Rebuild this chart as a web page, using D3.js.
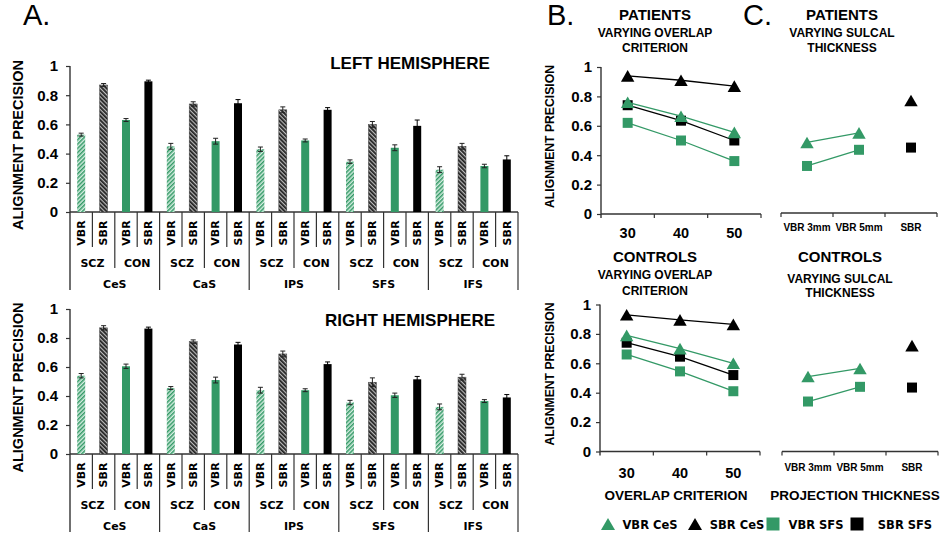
<!DOCTYPE html>
<html>
<head>
<meta charset="utf-8">
<script src="https://cdn.jsdelivr.net/npm/d3@7"></script>
<style>
body { margin: 0; background: #fff; }
svg text { font-family: "Liberation Sans", Arial, sans-serif; font-weight: bold; fill: #000; }
svg text.cat { font-family: "DejaVu Sans", Verdana, sans-serif; }
svg text.panel { font-weight: normal; }
</style>
</head>
<body>
<svg id="chart" width="943" height="539"></svg>
<script>
// ---- data ----
var SULCI = ["CeS", "CaS", "IPS", "SFS", "IFS"];
var GROUPS = ["SCZ", "CON"];
var METHODS = ["VBR", "SBR"];
var Y_TICKS = [0, 0.2, 0.4, 0.6, 0.8, 1];

// left hemisphere, one value per sulcus
var LEFT_VBR_SCZ = [0.53, 0.45, 0.43, 0.345, 0.29];
var LEFT_SBR_SCZ = [0.87, 0.74, 0.70, 0.60, 0.45];
var LEFT_VBR_CON = [0.63, 0.485, 0.49, 0.44, 0.315];
var LEFT_SBR_CON = [0.895, 0.745, 0.70, 0.59, 0.36];
var LEFT_VBR_SCZ_ERR = [0.01, 0.02, 0.015, 0.012, 0.02];
var LEFT_SBR_SCZ_ERR = [0.01, 0.015, 0.02, 0.02, 0.02];
var LEFT_VBR_CON_ERR = [0.01, 0.02, 0.01, 0.02, 0.012];
var LEFT_SBR_CON_ERR = [0.008, 0.025, 0.015, 0.04, 0.025];

// right hemisphere
var RIGHT_VBR_SCZ = [0.54, 0.455, 0.44, 0.355, 0.325];
var RIGHT_SBR_SCZ = [0.87, 0.775, 0.69, 0.495, 0.53];
var RIGHT_VBR_CON = [0.605, 0.51, 0.44, 0.405, 0.365];
var RIGHT_SBR_CON = [0.865, 0.755, 0.62, 0.515, 0.39];
var RIGHT_VBR_SCZ_ERR = [0.015, 0.01, 0.02, 0.015, 0.02];
var RIGHT_SBR_SCZ_ERR = [0.015, 0.012, 0.02, 0.03, 0.02];
var RIGHT_VBR_CON_ERR = [0.015, 0.02, 0.01, 0.015, 0.01];
var RIGHT_SBR_CON_ERR = [0.01, 0.015, 0.015, 0.02, 0.02];

// B: varying overlap criterion
var OVERLAP = ["30", "40", "50"];
var PAT_VBR_CES = [0.76, 0.665, 0.555];
var PAT_SBR_CES = [0.94, 0.91, 0.87];
var PAT_VBR_SFS = [0.62, 0.50, 0.36];
var PAT_SBR_SFS = [0.74, 0.635, 0.50];
var CON_VBR_CES = [0.79, 0.70, 0.60];
var CON_SBR_CES = [0.93, 0.895, 0.865];
var CON_VBR_SFS = [0.66, 0.545, 0.41];
var CON_SBR_SFS = [0.74, 0.645, 0.52];

// C: varying sulcal thickness
var THICKNESS = ["VBR 3mm", "VBR 5mm", "SBR"];
var PAT_THICK_VBR_CES = [0.48, 0.545];
var PAT_THICK_VBR_SFS = [0.32, 0.43];
var PAT_THICK_SBR_CES = [0.765];
var PAT_THICK_SBR_SFS = [0.445];
var CON_THICK_VBR_CES = [0.51, 0.565];
var CON_THICK_VBR_SFS = [0.34, 0.44];
var CON_THICK_SBR_CES = [0.72];
var CON_THICK_SBR_SFS = [0.435];

var LEGEND = ["VBR CeS", "SBR CeS", "VBR SFS", "SBR SFS"];

// ---- style ----
var GREEN = "#339966";
var AXIS = "#333";
var BAR_W = 8;
var FILLS = ["url(#hatchGreen)", "url(#hatchGray)", GREEN, "#000"];

var svg = d3.select("#chart");

function addPatterns(){
    var defs = svg.append("defs");
    var pg = defs.append("pattern").attr("id", "hatchGreen")
        .attr("width", 3).attr("height", 3)
        .attr("patternUnits", "userSpaceOnUse")
        .attr("patternTransform", "rotate(45)");
    pg.append("rect").attr("width", 3).attr("height", 3).attr("fill", "#d4ede0");
    pg.append("line").attr("x1", 0.75).attr("y1", 0).attr("x2", 0.75).attr("y2", 3)
        .attr("stroke", GREEN).attr("stroke-width", 1.5);

    var pk = defs.append("pattern").attr("id", "hatchGray")
        .attr("width", 3).attr("height", 3)
        .attr("patternUnits", "userSpaceOnUse")
        .attr("patternTransform", "rotate(-45)");
    pk.append("rect").attr("width", 3).attr("height", 3).attr("fill", "#bbb");
    pk.append("line").attr("x1", 0.9).attr("y1", 0).attr("x2", 0.9).attr("y2", 3)
        .attr("stroke", "#222").attr("stroke-width", 1.8);
}

function vText(g, txt, x, y, size, cls){
    return g.append("text").attr("class", cls || null)
        .attr("transform", "translate(" + x + "," + y + ") rotate(-90)")
        .attr("text-anchor", "middle").attr("dy", "0.35em")
        .style("font-size", size + "px").text(txt);
}

function hText(g, txt, x, y, size, cls){
    return g.append("text").attr("class", cls || null)
        .attr("x", x).attr("y", y)
        .attr("text-anchor", "middle").attr("dy", "0.35em")
        .style("font-size", size + "px").text(txt);
}

function line(g, x1, y1, x2, y2, w){
    g.append("line").attr("x1", x1).attr("y1", y1).attr("x2", x2).attr("y2", y2)
        .attr("stroke", AXIS).attr("stroke-width", w || 1.2);
}

function tickFmt(d){
    return d === 0 || d === 1 ? String(d) : d3.format(".1f")(d);
}

function drawBarPanel(cfg){
    var g = svg.append("g");
    var left = 70, right = 518;
    var slots = [];
    GROUPS.forEach(function(gr){ METHODS.forEach(function(m){ slots.push({group: gr, method: m}); }); });

    var x0 = d3.scaleBand().domain(SULCI).range([left, right]);
    var x1 = d3.scaleBand().domain(d3.range(slots.length)).range([0, x0.bandwidth()]);
    var y = d3.scaleLinear().domain([0, 1]).range([cfg.base, cfg.top]);

    var ax = g.append("g").attr("transform", "translate(" + left + ",0)")
        .call(d3.axisLeft(y).tickValues(Y_TICKS).tickSize(4).tickSizeOuter(0).tickPadding(8).tickFormat(tickFmt));
    ax.select(".domain").remove();
    ax.selectAll("line").attr("stroke", AXIS).attr("stroke-width", 1.2);
    ax.selectAll("text").style("font-size", "15px").attr("fill", "#000");

    line(g, left, cfg.top, left, cfg.base + 78, 1.4);
    line(g, left, cfg.base, right, cfg.base, 1.6);

    SULCI.forEach(function(s, i){
        slots.forEach(function(slot, j){
            var v = cfg.values[j][i], e = cfg.errors[j][i];
            var cx = x0(s) + x1(j) + x1.bandwidth() / 2;
            g.append("rect")
                .attr("x", cx - BAR_W / 2).attr("width", BAR_W)
                .attr("y", y(v)).attr("height", y(0) - y(v))
                .attr("fill", FILLS[j])
                .attr("stroke", j === 1 ? "#444" : "none").attr("stroke-width", 0.5);
            var eg = g.append("g").attr("stroke", j === 3 ? "#000" : "#222").attr("stroke-width", 1);
            eg.append("line").attr("x1", cx).attr("x2", cx).attr("y1", y(v - e)).attr("y2", y(v + e));
            eg.append("line").attr("x1", cx - 2.5).attr("x2", cx + 2.5).attr("y1", y(v + e)).attr("y2", y(v + e));
            eg.append("line").attr("x1", cx - 2.5).attr("x2", cx + 2.5).attr("y1", y(v - e)).attr("y2", y(v - e));

            vText(g, slot.method, cx, cfg.base + 21, 11, "cat");
            if (j > 0) {
                var bx = x0(s) + x1(j);
                line(g, bx, cfg.base, bx, cfg.base + (j === 2 ? 56 : 35));
            }
        });
        GROUPS.forEach(function(gr, k){
            var gx = x0(s) + x1(k * 2) + x1.bandwidth();
            hText(g, gr, gx, cfg.base + 51, 11, "cat");
        });
        hText(g, s, x0(s) + x0.bandwidth() / 2, cfg.base + 72, 11, "cat");
        line(g, x0(s) + x0.bandwidth(), cfg.base, x0(s) + x0.bandwidth(), cfg.base + 78);
    });

    hText(g, cfg.title, 410, cfg.titleY, 17);
    vText(g, "ALIGNMENT PRECISION", 18, (cfg.base + cfg.top) / 2 + 6, 14.5);
}

function marker(g, shape, color, x, y, area){
    var sym = shape === "tri" ? d3.symbolTriangle : d3.symbolSquare;
    var off = shape === "tri" ? Math.sqrt(area / (3 * Math.sqrt(3))) / 2 : 0;
    g.append("path")
        .attr("d", d3.symbol().type(sym).size(area)())
        .attr("transform", "translate(" + x + "," + (y + off) + ")")
        .attr("fill", color);
}

function drawLinePanel(cfg){
    var g = svg.append("g");
    var x = d3.scaleBand().domain(cfg.cats).range(cfg.xr);
    var y = d3.scaleLinear().domain([0, 1]).range([cfg.base, cfg.top]);

    if (cfg.yAxis) {
        var ax = g.append("g").attr("transform", "translate(" + cfg.xr[0] + ",0)")
            .call(d3.axisLeft(y).tickValues(Y_TICKS).tickSize(4).tickSizeOuter(0).tickPadding(5).tickFormat(tickFmt));
        ax.select(".domain").remove();
        ax.selectAll("line").attr("stroke", AXIS).attr("stroke-width", 1.2);
        ax.selectAll("text").style("font-size", "15px").attr("fill", "#000");
        line(g, cfg.xr[0], cfg.top, cfg.xr[0], cfg.base + 4, 1.4);
        vText(g, "ALIGNMENT PRECISION", 550, (cfg.base + cfg.top) / 2 - 4, 12.2);
    }
    line(g, cfg.xr[0], cfg.base, cfg.xr[1], cfg.base, 1.4);
    cfg.cats.forEach(function(c, i){
        if (i > 0 || !cfg.yAxis) line(g, x(c), cfg.base, x(c), cfg.base + 4);
        hText(g, c, x(c) + x.bandwidth() / 2, cfg.base + cfg.labelDy, cfg.labelSize);
    });
    line(g, cfg.xr[1], cfg.base, cfg.xr[1], cfg.base + 4);

    cfg.series.forEach(function(s){
        var pts = s.values.map(function(v, i){
            return [x(s.cats[i]) + x.bandwidth() / 2, y(v)];
        });
        if (pts.length > 1) {
            g.append("path").attr("d", d3.line()(pts))
                .attr("fill", "none").attr("stroke", s.color).attr("stroke-width", 1.3);
        }
        pts.forEach(function(p){
            marker(g, s.shape, s.color, p[0], p[1], s.shape === "tri" ? 78 : 100);
        });
    });

    hText(g, cfg.title, cfg.cx, cfg.titleY, 15);
    hText(g, cfg.sub[0], cfg.cx, cfg.titleY + cfg.subDy[0], 12);
    hText(g, cfg.sub[1], cfg.cx, cfg.titleY + cfg.subDy[1], 12);
}

function series(cats, vbrCes, sbrCes, vbrSfs, sbrSfs, sbrCats){
    return [
        {values: sbrSfs, cats: sbrCats || cats, shape: "sq", color: "#000"},
        {values: vbrSfs, cats: cats, shape: "sq", color: GREEN},
        {values: sbrCes, cats: sbrCats || cats, shape: "tri", color: "#000"},
        {values: vbrCes, cats: cats, shape: "tri", color: GREEN}
    ];
}

function drawLegend(){
    var g = svg.append("g");
    var items = [
        {shape: "tri", color: GREEN, x: 608, tx: 650},
        {shape: "tri", color: "#000", x: 695, tx: 737},
        {shape: "sq", color: GREEN, x: 773, tx: 816},
        {shape: "sq", color: "#000", x: 857, tx: 905}
    ];
    items.forEach(function(it, i){
        marker(g, it.shape, it.color, it.x, 524, it.shape === "tri" ? 85 : 169);
        hText(g, LEGEND[i], it.tx, 525, 11.5, "cat");
    });
}

addPatterns();

drawBarPanel({
    base: 212, top: 66, title: "LEFT HEMISPHERE", titleY: 63,
    values: [LEFT_VBR_SCZ, LEFT_SBR_SCZ, LEFT_VBR_CON, LEFT_SBR_CON],
    errors: [LEFT_VBR_SCZ_ERR, LEFT_SBR_SCZ_ERR, LEFT_VBR_CON_ERR, LEFT_SBR_CON_ERR]
});
drawBarPanel({
    base: 454, top: 309, title: "RIGHT HEMISPHERE", titleY: 320,
    values: [RIGHT_VBR_SCZ, RIGHT_SBR_SCZ, RIGHT_VBR_CON, RIGHT_SBR_CON],
    errors: [RIGHT_VBR_SCZ_ERR, RIGHT_SBR_SCZ_ERR, RIGHT_VBR_CON_ERR, RIGHT_SBR_CON_ERR]
});

drawLinePanel({
    cats: OVERLAP, xr: [601, 761], base: 214, top: 67, yAxis: true,
    labelDy: 19, labelSize: 14.5, cx: 655, title: "PATIENTS", titleY: 15,
    sub: ["VARYING OVERLAP", "CRITERION"], subDy: [18, 33],
    series: series(OVERLAP, PAT_VBR_CES, PAT_SBR_CES, PAT_VBR_SFS, PAT_SBR_SFS)
});
drawLinePanel({
    cats: OVERLAP, xr: [600, 760], base: 451.5, top: 304.5, yAxis: true,
    labelDy: 21, labelSize: 14.5, cx: 655, title: "CONTROLS", titleY: 257,
    sub: ["VARYING OVERLAP", "CRITERION"], subDy: [18, 34],
    series: series(OVERLAP, CON_VBR_CES, CON_SBR_CES, CON_VBR_SFS, CON_SBR_SFS)
});
drawLinePanel({
    cats: THICKNESS, xr: [781, 937], base: 213, top: 66, yAxis: false,
    labelDy: 14, labelSize: 10, cx: 842, title: "PATIENTS", titleY: 15,
    sub: ["VARYING SULCAL", "THICKNESS"], subDy: [18, 33],
    series: series(THICKNESS.slice(0, 2), PAT_THICK_VBR_CES, PAT_THICK_SBR_CES, PAT_THICK_VBR_SFS, PAT_THICK_SBR_SFS, THICKNESS.slice(2))
});
drawLinePanel({
    cats: THICKNESS, xr: [782, 938], base: 451.5, top: 304.5, yAxis: false,
    labelDy: 15.5, labelSize: 10, cx: 840, title: "CONTROLS", titleY: 257,
    sub: ["VARYING SULCAL", "THICKNESS"], subDy: [22, 36],
    series: series(THICKNESS.slice(0, 2), CON_THICK_VBR_CES, CON_THICK_SBR_CES, CON_THICK_VBR_SFS, CON_THICK_SBR_SFS, THICKNESS.slice(2))
});

hText(svg, "OVERLAP CRITERION", 676, 495, 13.5);
hText(svg, "PROJECTION THICKNESS", 855, 495, 13.5);
drawLegend();

svg.append("text").attr("class", "panel").attr("x", 23).attr("y", 25).style("font-size", "29px").text("A.");
svg.append("text").attr("class", "panel").attr("x", 547).attr("y", 25).style("font-size", "29px").text("B.");
svg.append("text").attr("class", "panel").attr("x", 743).attr("y", 25).style("font-size", "29px").text("C.");
</script>
</body>
</html>
